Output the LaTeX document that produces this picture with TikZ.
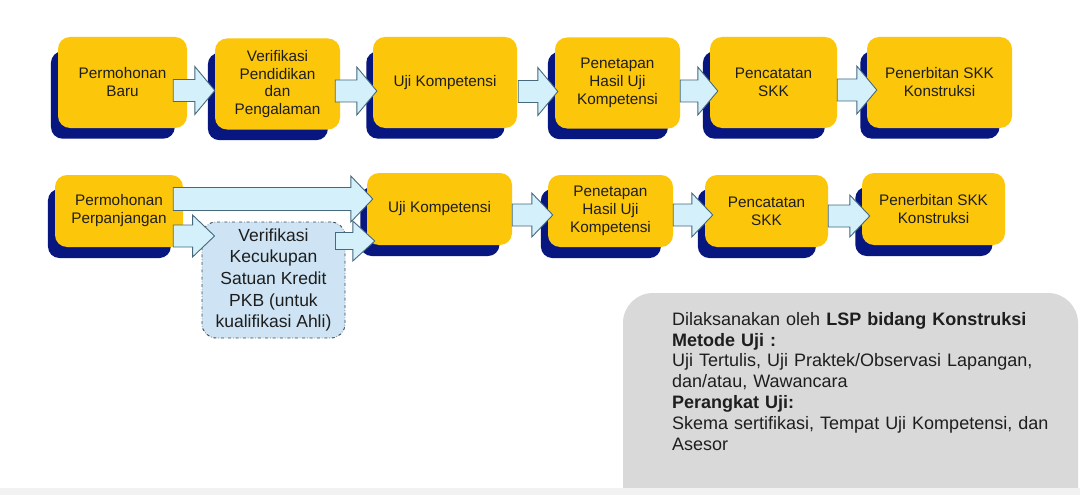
\documentclass[tikz,border=0pt]{standalone}
\usepackage{fontspec}
\setmainfont{Liberation Sans}
\usetikzlibrary{calc,shadows}
\definecolor{boxyellow}{RGB}{252,198,10}
\definecolor{navy}{RGB}{8,22,128}
\definecolor{arrfill}{RGB}{212,240,250}
\definecolor{arrline}{RGB}{70,105,125}
\definecolor{vfill}{RGB}{206,228,244}
\definecolor{vline}{RGB}{60,70,80}
\definecolor{greybox}{RGB}{217,217,217}
\definecolor{stripgrey}{RGB}{242,242,242}
\definecolor{txt}{RGB}{30,30,30}
\newcommand\arrB{11pt}
\newcommand\arrH{24pt}
\newcommand\arrL{20pt}
\tikzset{
  abody/.store in=\arrB,
  ahead/.store in=\arrH,
  alen/.store in=\arrL,
  ybox/.style={rectangle, rounded corners=12pt, fill=boxyellow, text=txt,
    font=\fontsize{15.3}{18}\selectfont, align=center, inner sep=0pt,
    drop shadow={shadow xshift=-10pt, shadow yshift=-13pt, shadow scale=0.96,
      fill=navy, opacity=1}},
  toprow/.style={ybox, minimum height=91pt},
  botrow/.style={ybox, minimum height=72pt},
  vbox/.style={rectangle, rounded corners=14pt, fill=vfill, draw=vline,
    dash dot, line width=0.9pt, text=txt, font=\fontsize{17.5}{21.7}\selectfont,
    align=center, inner sep=0pt, minimum width=143pt, minimum height=116pt},
  blockarrow/.style={draw=arrline, fill=arrfill, line width=0.9pt, line join=miter,
    to path={let \p1=(\tikztostart), \p2=(\tikztotarget) in
      (\x1,\y1+\arrB) -- (\x2-\arrL,\y1+\arrB) -- (\x2-\arrL,\y1+\arrH) --
      (\x2,\y1) -- (\x2-\arrL,\y1-\arrH) -- (\x2-\arrL,\y1-\arrB) --
      (\x1,\y1-\arrB) -- cycle}},
}
\begin{document}
\begin{tikzpicture}[x=1pt,y=-1pt]
\useasboundingbox[fill=white] (0,0) rectangle (1080,495);

% top row
\node[toprow, minimum width=129pt] (b1) at (122.5,82.5) {Permohonan\\Baru};
\node[toprow, minimum width=125pt, font=\fontsize{15.3}{17.4}\selectfont] (b2) at (277.5,84) {Verifikasi\\Pendidikan\\dan\\Pengalaman};
\node[toprow, minimum width=144pt] (b3) at (445,82.5) {Uji Kompetensi};
\node[toprow, minimum width=125pt] (b4) at (617.5,83) {Penetapan\\Hasil Uji\\Kompetensi};
\node[toprow, minimum width=127pt] (b5) at (773.5,82.5) {Pencatatan\\SKK};
\node[toprow, minimum width=145pt] (b6) at (939.5,82.5) {Penerbitan SKK\\Konstruksi};

\draw[blockarrow] ($(b1.east)+(-14,8)$) to ($(b2.west)+(0,8)$);
\draw[blockarrow] ($(b2.east)+(-5,7)$) to ($(b3.west)+(4,7)$);
\draw[blockarrow] ($(b3.east)+(1,9)$) to ($(b4.west)+(3,9)$);
\draw[blockarrow] ($(b4.east)+(0,8)$) to ($(b5.west)+(8,8)$);
\draw[blockarrow] ($(b5.east)+(0,7.5)$) to ($(b6.west)+(10,7.5)$);

% bottom row
\node[botrow, minimum width=128pt] (c1) at (119,211) {Permohonan\\Perpanjangan};
\node[botrow, minimum width=145pt] (c3) at (439.5,209) {Uji Kompetensi};
\node[botrow, minimum width=125pt] (c4) at (610.5,211) {Penetapan\\Hasil Uji\\Kompetensi};
\node[botrow, minimum width=123pt] (c5) at (766.5,211) {Pencatatan\\SKK};
\node[botrow, minimum width=143pt] (c6) at (933.5,209) {Penerbitan SKK\\Konstruksi};
\node[vbox] (v) at (273.5,280) {Verifikasi\\Kecukupan\\Satuan Kredit\\PKB (untuk\\kualifikasi Ahli)};

\draw[blockarrow, abody=11.5pt, ahead=23pt, alen=22pt] ($(c1.east)+(-10,-12)$) to ($(c3.west)+(6,-12)$);
\draw[blockarrow, abody=11pt, ahead=21pt, alen=22pt] ($(c1.east)+(-10,25)$) to ($(v.west)+(13,25)$);
\draw[blockarrow, abody=8.5pt, ahead=20pt, alen=22pt] ($(v.east)+(-10,-39)$) to ($(c3.west)+(8,-39)$);
\draw[blockarrow, abody=11pt, ahead=22pt, alen=21pt] ($(c3.east)+(0,6)$) to ($(c4.west)+(5,6)$);
\draw[blockarrow, abody=11pt, ahead=22pt, alen=21pt] ($(c4.east)+(0,4)$) to ($(c5.west)+(8,4)$);
\draw[blockarrow, abody=11pt, ahead=21pt, alen=20pt] ($(c5.east)+(0,5)$) to ($(c6.west)+(8,5)$);

% info panel
\fill[greybox, rounded corners=30pt] (623,293) rectangle (1078,540);
\fill[stripgrey] (0,488) rectangle (1080,495);
\node[anchor=north west, inner sep=0pt, align=left, text width=400pt, text=txt,
  font=\fontsize{18}{20.8}\selectfont] (info) at (672,312)
  {Dilaksanakan oleh \textbf{LSP bidang Konstruksi}\\
   \textbf{Metode Uji :}\\
   Uji Tertulis, Uji Praktek/Observasi Lapangan,\\
   dan/atau, Wawancara\\
   \textbf{Perangkat Uji:}\\
   Skema sertifikasi, Tempat Uji Kompetensi, dan\\
   Asesor};
\end{tikzpicture}
\end{document}
